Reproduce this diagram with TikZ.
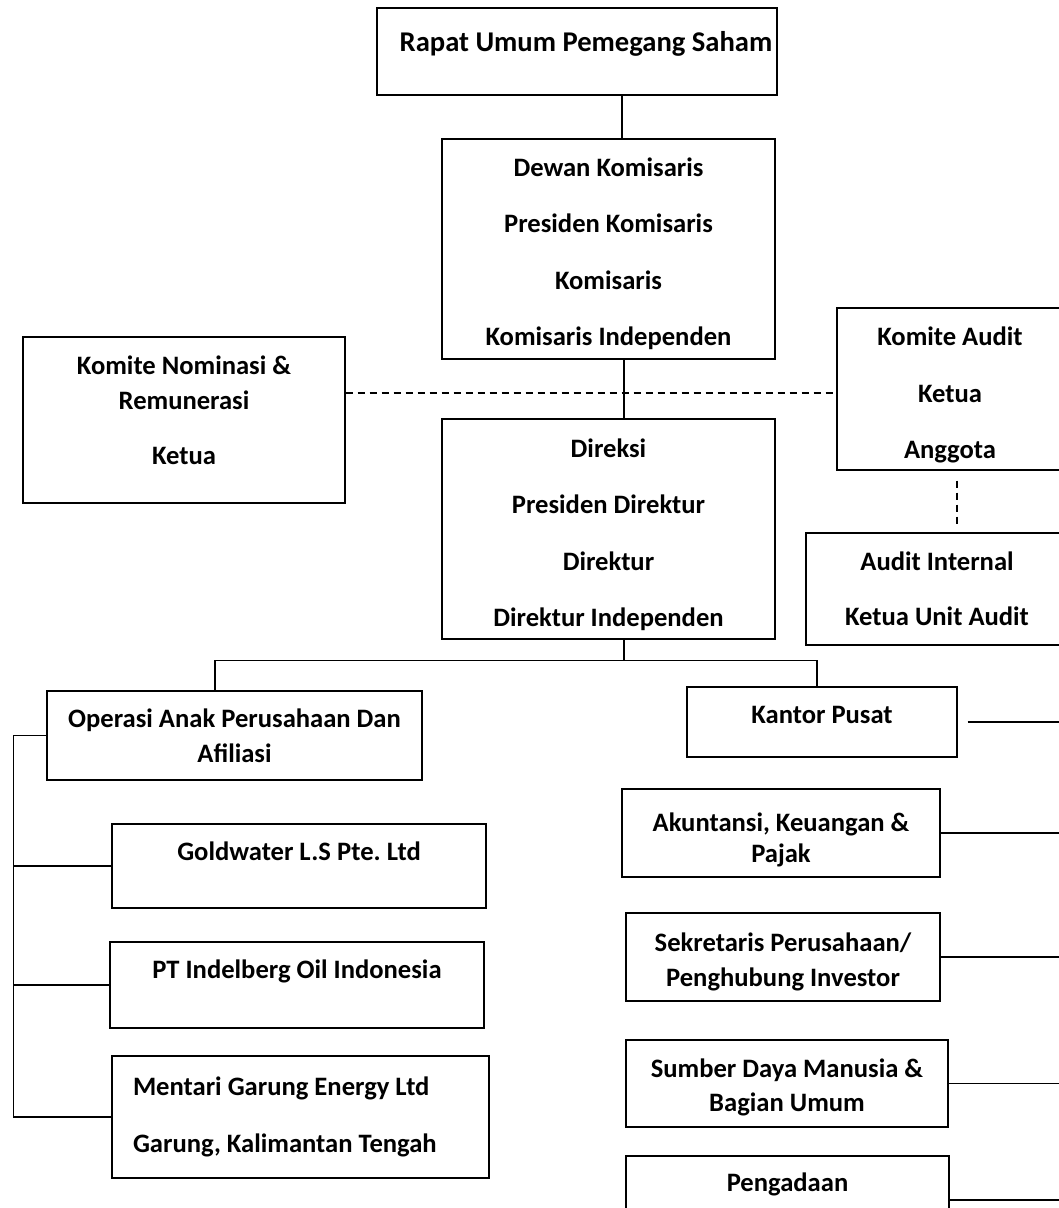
\documentclass[tikz,border=0pt]{standalone}
\usepackage{fontspec}
\setmainfont{Carlito}
\usetikzlibrary{positioning,calc}

\begin{document}
\begin{tikzpicture}[x=1pt,y=-1pt,line width=1.2pt,
	lifted/.style={text height=16pt, text depth=#1}]
	\tikzstyle{box}=[draw, rectangle, inner sep=0pt, align=center, font=\bfseries\fontsize{26.6}{35}\selectfont]
	\tikzstyle{wide}=[font=\bfseries\fontsize{26.6}{56.5}\selectfont]
	\tikzstyle{dotline}=[dash pattern=on 7pt off 5pt]
	\useasboundingbox (0,0) rectangle (1059,1208);

	% coordinates for the connector lines
	\coordinate (top) at (622,0);
	\coordinate (mid) at (624,0);
	\coordinate (aud) at (957,0);
	\coordinate (opx) at (215,0);
	\coordinate (kpx) at (817,0);
	\coordinate (rb) at (1059,0);
	\coordinate (dsh) at (0,393);

	% board
	\node[box, line width=2.6pt, minimum width=400pt, minimum height=87pt, lifted=17pt, font=\bfseries\fontsize{28.6}{34}\selectfont](rups) at (577,51.5){\hspace*{18pt}Rapat Umum Pemegang Saham};
	\node[box, wide, minimum width=333pt, minimum height=220pt](dk) at (608.5,249){\rule{0pt}{28pt}Dewan Komisaris\\Presiden Komisaris\\Komisaris\\Komisaris Independen};
	\node[box, minimum width=322pt, minimum height=166pt](nom) at (184,420){Komite Nominasi \&\\Remunerasi\\[20pt]Ketua\\[-15pt]\mbox{}};
	\node[box, wide, minimum width=226pt, minimum height=162pt](ka) at (950,389){\rule{0pt}{30.5pt}Komite Audit\\Ketua\\Anggota};
	\node[box, wide, minimum width=333pt, minimum height=220pt](dir) at (608.5,529){\rule{0pt}{30.5pt}Direksi\\Presiden Direktur\\Direktur\\Direktur Independen};
	\node[box, minimum width=262pt, minimum height=112pt, font=\bfseries\fontsize{26.6}{55}\selectfont](ai) at (937,589){Audit Internal\\Ketua Unit Audit};

	% subsidiaries
	\node[box, minimum width=375pt, minimum height=89pt](op) at (234.5,735.5){Operasi Anak Perusahaan Dan\\Afiliasi};
	\node[box, minimum width=374pt, minimum height=84pt, lifted=28pt](gw) at (299,866){Goldwater L.S Pte.\ Ltd};
	\node[box, minimum width=374pt, minimum height=86pt, lifted=30pt](pti) at (297,985){PT Indelberg Oil Indonesia};
	\node[box, minimum width=377pt, minimum height=122pt, text width=335pt, align=flush left, font=\bfseries\fontsize{26.6}{57}\selectfont](mg) at (300.5,1117){Mentari Garung Energy Ltd\\Garung, Kalimantan Tengah};

	% head office
	\node[box, minimum width=270pt, minimum height=70pt, lifted=14pt](kp) at (822,722){Kantor Pusat};
	\node[box, minimum width=318pt, minimum height=88pt, font=\bfseries\fontsize{26.6}{31}\selectfont](ak) at (781,833){\rule{0pt}{32pt}Akuntansi, Keuangan \&\\Pajak};
	\node[box, minimum width=314pt, minimum height=88pt](sk) at (783,957){\rule{0pt}{29pt}Sekretaris Perusahaan/\\Penghubung Investor};
	\node[box, minimum width=322pt, minimum height=87pt, font=\bfseries\fontsize{26.6}{34}\selectfont](sdm) at (787,1083.5){\rule{0pt}{26.5pt}Sumber Daya Manusia \&\\Bagian Umum};
	\node[box, minimum width=323pt, minimum height=88pt, lifted=34pt](pg) at (787.5,1200){Pengadaan};

	\draw (rups.south -| top) -- (dk.north -| top);
	\draw (dk.south -| mid) -- (dir.north -| mid);
	\draw[dotline] (nom.east |- dsh) -- (ka.west |- dsh);
	\draw[dotline, shorten <=10pt, shorten >=8pt] (ka.south -| aud) -- (ai.north -| aud);

	\draw (dir.south -| mid) -- ++(0,21) coordinate (fork);
	\draw (op.north -| opx) |- (fork) -| (kp.north -| kpx);

	\draw (op.west) -- ++(-33,0) coordinate (bus) |- (mg.west);
	\draw (bus |- gw.west) -- (gw.west);
	\draw (bus |- pti.west) -- (pti.west);

	\draw ([xshift=10pt]kp.east) -- (kp.east -| rb);
	\draw (ak.east) -- (ak.east -| rb);
	\draw (sk.east) -- (sk.east -| rb);
	\draw (sdm.east) -- (sdm.east -| rb);
	\draw (pg.east) -- (pg.east -| rb);
\end{tikzpicture}
\end{document}
